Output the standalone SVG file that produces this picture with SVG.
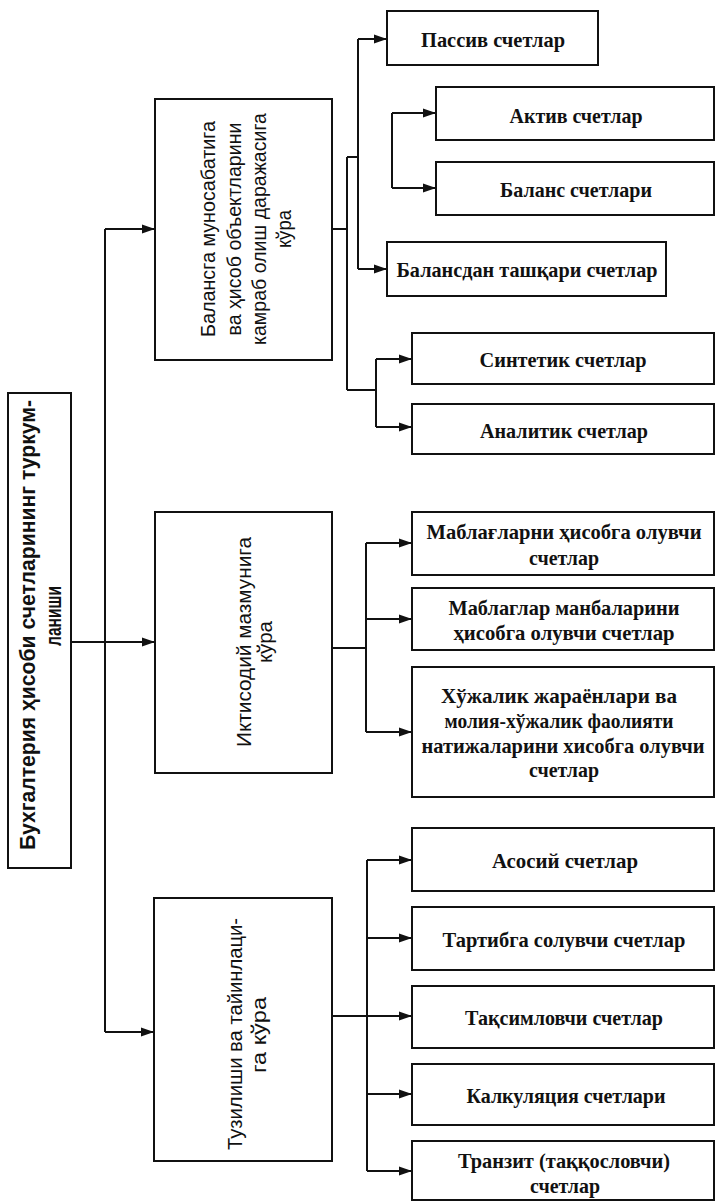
<svg xmlns="http://www.w3.org/2000/svg" width="716" height="1202" viewBox="0 0 716 1202">
<defs>
<style>
.box{fill:#fff;stroke:#111;stroke-width:2}
.ln{fill:none;stroke:#111;stroke-width:2}
.r{font-family:"Liberation Serif","Times New Roman",serif;font-weight:bold;font-size:21px;text-anchor:middle;fill:#111}
.v{font-family:"Liberation Sans",Arial,sans-serif;font-size:21px;text-anchor:middle;fill:#111}
.m{font-family:"Liberation Sans",Arial,sans-serif;font-weight:bold;font-size:22px;text-anchor:middle;fill:#111}
</style>
<marker id="ah" markerWidth="14" markerHeight="10" refX="13" refY="5" orient="auto" markerUnits="userSpaceOnUse"><path d="M0,0.5 L13,5 L0,9.5 z" fill="#111"/></marker>
</defs>
<rect width="716" height="1202" fill="#fff"/>
<g id="connectors">
<path class="ln" d="M71,642 H155" marker-end="url(#ah)"/>
<path class="ln" d="M105,229 V1032"/>
<path class="ln" d="M105,229 H155" marker-end="url(#ah)"/>
<path class="ln" d="M105,1032 H154" marker-end="url(#ah)"/>
<path class="ln" d="M332,229 H347 M347,157 V390 M347,157 H358 M358,39 V269 M347,390 H376 M376,359 V427"/>
<path class="ln" d="M358,39 H387" marker-end="url(#ah)"/>
<path class="ln" d="M358,269 H387" marker-end="url(#ah)"/>
<path class="ln" d="M376,359 H412" marker-end="url(#ah)"/>
<path class="ln" d="M376,427 H412" marker-end="url(#ah)"/>
<path class="ln" d="M392,113 V188"/>
<path class="ln" d="M392,113 H436" marker-end="url(#ah)"/>
<path class="ln" d="M392,188 H436" marker-end="url(#ah)"/>
<path class="ln" d="M332,648 H366 M366,543 V732"/>
<path class="ln" d="M366,543 H412" marker-end="url(#ah)"/>
<path class="ln" d="M366,619 H412" marker-end="url(#ah)"/>
<path class="ln" d="M366,732 H412" marker-end="url(#ah)"/>
<path class="ln" d="M367,860 V1171"/>
<path class="ln" d="M332,1016 H412" marker-end="url(#ah)"/>
<path class="ln" d="M367,860 H412" marker-end="url(#ah)"/>
<path class="ln" d="M367,938 H412" marker-end="url(#ah)"/>
<path class="ln" d="M367,1094 H412" marker-end="url(#ah)"/>
<path class="ln" d="M367,1171 H412" marker-end="url(#ah)"/>
</g>
<g id="root">
<rect class="box" x="8" y="393" width="63" height="475"/>
<text class="m" transform="translate(35,625) rotate(-90)" textLength="450" lengthAdjust="spacingAndGlyphs">Бухгалтерия ҳисоби счетларининг туркум-</text>
<text class="m" transform="translate(61,616) rotate(-90)" textLength="60" lengthAdjust="spacingAndGlyphs">ланиши</text>
</g>
<g id="balance">
<rect class="box" x="155" y="99" width="177" height="261"/>
<text class="v" transform="translate(215,229) rotate(-90)" textLength="216" lengthAdjust="spacingAndGlyphs">Балансга муносабатига</text>
<text class="v" transform="translate(241,229) rotate(-90)" textLength="213" lengthAdjust="spacingAndGlyphs">ва ҳисоб объектларини</text>
<text class="v" transform="translate(266,229) rotate(-90)" textLength="232" lengthAdjust="spacingAndGlyphs">камраб олиш даражасига</text>
<text class="v" transform="translate(291,229) rotate(-90)" textLength="38" lengthAdjust="spacingAndGlyphs">кўра</text>
</g>
<g id="economic">
<rect class="box" x="155" y="512" width="177" height="261"/>
<text class="v" transform="translate(251,642) rotate(-90)" textLength="210" lengthAdjust="spacingAndGlyphs">Иктисодий мазмунига</text>
<text class="v" transform="translate(272,642) rotate(-90)" textLength="42" lengthAdjust="spacingAndGlyphs">кўра</text>
</g>
<g id="structure">
<rect class="box" x="154" y="898" width="178" height="263"/>
<text class="v" transform="translate(242,1034) rotate(-90)" textLength="232" lengthAdjust="spacingAndGlyphs">Тузилиши ва тайинлаци-</text>
<text class="v" transform="translate(266,1035) rotate(-90)" textLength="76" lengthAdjust="spacingAndGlyphs">га кўра</text>
</g>
<g id="passive">
<rect class="box" x="387" y="11" width="211" height="54"/>
<text class="r" x="493" y="47" textLength="144" lengthAdjust="spacingAndGlyphs">Пассив счетлар</text>
</g>
<g id="active">
<rect class="box" x="436" y="87" width="278" height="53"/>
<text class="r" x="576" y="123" textLength="133" lengthAdjust="spacingAndGlyphs">Актив счетлар</text>
</g>
<g id="balance-acc">
<rect class="box" x="436" y="162" width="278" height="53"/>
<text class="r" x="576" y="197" textLength="152" lengthAdjust="spacingAndGlyphs">Баланс счетлари</text>
</g>
<g id="offbalance">
<rect class="box" x="387" y="242" width="279" height="54"/>
<text class="r" x="527" y="277" textLength="261" lengthAdjust="spacingAndGlyphs">Балансдан ташқари счетлар</text>
</g>
<g id="synthetic">
<rect class="box" x="412" y="333" width="302" height="51"/>
<text class="r" x="563" y="367" textLength="167" lengthAdjust="spacingAndGlyphs">Синтетик счетлар</text>
</g>
<g id="analytic">
<rect class="box" x="412" y="404" width="302" height="50"/>
<text class="r" x="564" y="438" textLength="168" lengthAdjust="spacingAndGlyphs">Аналитик счетлар</text>
</g>
<g id="funds">
<rect class="box" x="412" y="512" width="302" height="63"/>
<text class="r" x="564" y="539" textLength="275" lengthAdjust="spacingAndGlyphs">Маблағларни ҳисобга олувчи</text>
<text class="r" x="564" y="565" textLength="70" lengthAdjust="spacingAndGlyphs">счетлар</text>
</g>
<g id="sources">
<rect class="box" x="412" y="588" width="302" height="62"/>
<text class="r" x="564" y="615" textLength="231" lengthAdjust="spacingAndGlyphs">Маблаглар манбаларини</text>
<text class="r" x="564" y="640" textLength="221" lengthAdjust="spacingAndGlyphs">ҳисобга олувчи счетлар</text>
</g>
<g id="processes">
<rect class="box" x="412" y="667" width="302" height="130"/>
<text class="r" x="559" y="703" textLength="236" lengthAdjust="spacingAndGlyphs">Хўжалик жараёнлари ва</text>
<text class="r" x="559" y="728" textLength="229" lengthAdjust="spacingAndGlyphs">молия-хўжалик фаолияти</text>
<text class="r" x="563" y="753" textLength="283" lengthAdjust="spacingAndGlyphs">натижаларини хисобга олувчи</text>
<text class="r" x="564" y="777" textLength="70" lengthAdjust="spacingAndGlyphs">счетлар</text>
</g>
<g id="basic">
<rect class="box" x="412" y="828" width="302" height="63"/>
<text class="r" x="565" y="868" textLength="146" lengthAdjust="spacingAndGlyphs">Асосий счетлар</text>
</g>
<g id="regulating">
<rect class="box" x="412" y="907" width="302" height="63"/>
<text class="r" x="564" y="947" textLength="243" lengthAdjust="spacingAndGlyphs">Тартибга солувчи счетлар</text>
</g>
<g id="distributing">
<rect class="box" x="412" y="986" width="302" height="62"/>
<text class="r" x="564" y="1025" textLength="198" lengthAdjust="spacingAndGlyphs">Тақсимловчи счетлар</text>
</g>
<g id="calculation">
<rect class="box" x="412" y="1064" width="302" height="61"/>
<text class="r" x="566" y="1103" textLength="199" lengthAdjust="spacingAndGlyphs">Калкуляция счетлари</text>
</g>
<g id="transit">
<rect class="box" x="412" y="1141" width="302" height="59"/>
<text class="r" x="564" y="1168" textLength="212" lengthAdjust="spacingAndGlyphs">Транзит (таққословчи)</text>
<text class="r" x="565" y="1193" textLength="70" lengthAdjust="spacingAndGlyphs">счетлар</text>
</g>
</svg>
